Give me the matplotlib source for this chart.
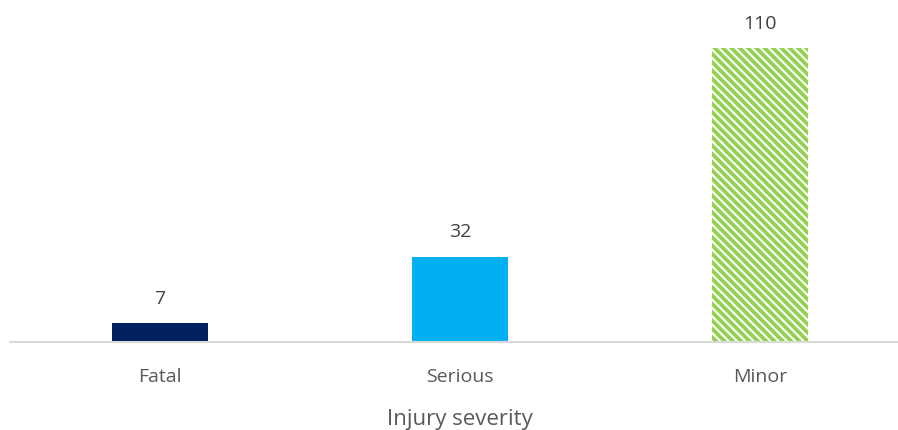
import matplotlib
matplotlib.use("Agg")
import matplotlib.pyplot as plt

categories = ["Fatal", "Serious", "Minor"]
values = [7, 32, 110]
colors = ["#002060", "#00B0F0", "white"]
hatches = [None, None, "\\\\\\\\"]
edgecolors = ["#002060", "#00B0F0", "#92D050"]

plt.rcParams["font.family"] = ["Open Sans", "DejaVu Sans"]
plt.rcParams["hatch.linewidth"] = 2.7

fig = plt.figure(figsize=(8.98, 4.30), dpi=100)
ax = fig.add_axes([10 / 898, 1 - 342 / 430, 900 / 898, 342 / 430])

x = range(len(categories))
for i, (v, c, h, ec) in enumerate(zip(values, colors, hatches, edgecolors)):
    ax.bar(i, v, width=0.317, color=c, hatch=h, edgecolor=ec, linewidth=0)
    ax.annotate(str(v), (i, v), xytext=(0, 11), textcoords="offset points",
                ha="center", va="bottom", fontsize=14, color="#404040")

ax.set_xlim(-0.5, 2.5)
ax.set_ylim(0, 128)
ax.set_xticks(list(x))
ax.set_xticklabels(categories, fontsize=14, color="#595959")
ax.tick_params(axis="x", length=0, pad=19)
ax.set_yticks([])
for s in ["top", "right", "left"]:
    ax.spines[s].set_visible(False)
ax.spines["bottom"].set_color("#D9D9D9")
ax.spines["bottom"].set_linewidth(1.5)
ax.set_xlabel("Injury severity", fontsize=16, color="#595959", labelpad=16)

fig.savefig("out.png", dpi=100)
